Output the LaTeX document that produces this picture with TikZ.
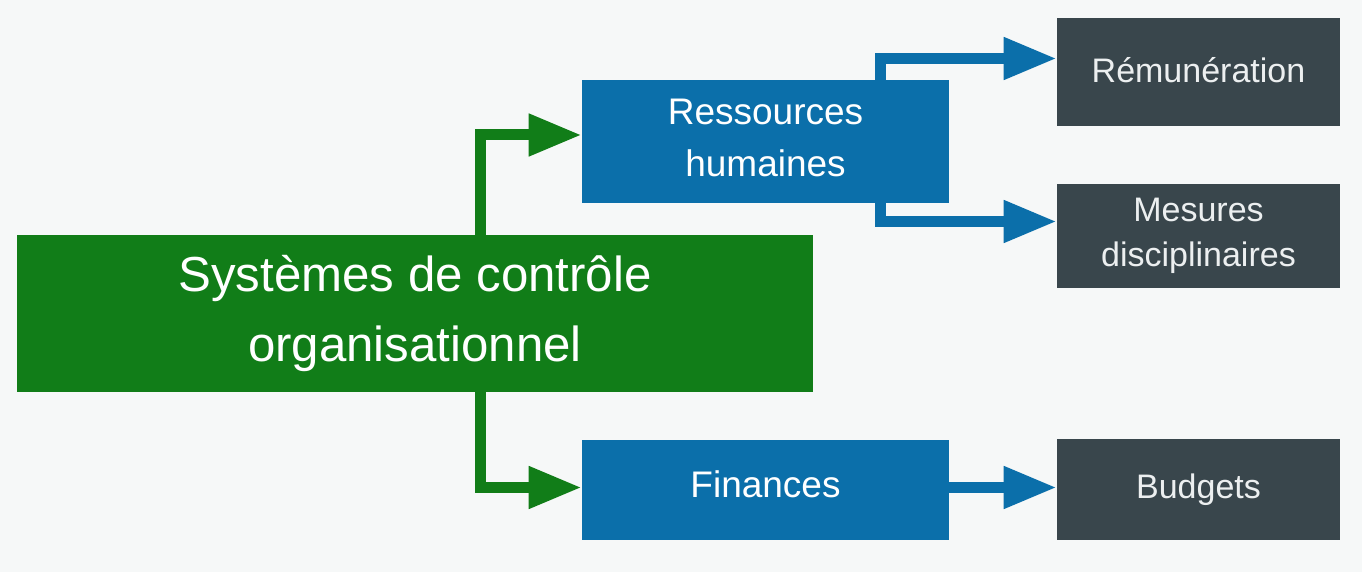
\documentclass[tikz,border=0pt]{standalone}
\usepackage{fontspec}
\setmainfont{Liberation Sans}
\usetikzlibrary{arrows.meta}
\definecolor{ctrlgreen}{RGB}{17,125,24}
\definecolor{ctrlblue}{RGB}{11,111,170}
\definecolor{ctrldark}{RGB}{57,70,76}
\definecolor{ctrlbg}{RGB}{246,248,248}
\definecolor{ctrltext}{RGB}{236,239,240}

\begin{document}
\begin{tikzpicture}[x=0.5pt,y=-0.5pt, box/.style={rectangle,inner sep=0pt,align=center,text=white},
  sysbox/.style={box,fill=ctrlgreen,minimum width=398pt,minimum height=78.5pt,font=\fontsize{24.6}{35}\selectfont},
  areabox/.style={box,fill=ctrlblue,minimum width=183.5pt,font=\fontsize{18.5}{26}\selectfont},
  toolbox/.style={box,fill=ctrldark,text=ctrltext,minimum width=141.5pt,font=\fontsize{17}{22.5}\selectfont},
  flow/.style={line width=5.5pt,-{Triangle[length=26.5pt,width=20pt]}}]
\fill[ctrlbg] (0,0) rectangle (1362,572);
\useasboundingbox (0,0) rectangle (1362,572);
\node[sysbox] (sys) at (415,313.5) {Systèmes de contrôle\\organisationnel};
\node[areabox,minimum height=61.5pt,text depth=4pt] (rh) at (765.5,141.5) {Ressources\\humaines};
\node[areabox,minimum height=50pt,text depth=6pt] (fin) at (765.5,490) {Finances};
\node[toolbox,minimum height=54pt,text depth=2pt] (rem) at (1198.5,72) {Rémunération};
\node[toolbox,minimum height=52pt] (mes) at (1198.5,236) {Mesures\\disciplinaires};
\node[toolbox,minimum height=50.5pt] (bud) at (1198.5,489.5) {Budgets};
\draw[flow,ctrlgreen] ([xshift=32.5pt]sys.north) |- ([yshift=3.25pt]rh.west);
\draw[flow,ctrlgreen] ([xshift=32.5pt]sys.south) |- ([yshift=1.25pt]fin.west);
\draw[flow,ctrlblue] ([xshift=57.5pt]rh.north) |- ([yshift=6.75pt]rem.west);
\draw[flow,ctrlblue] ([xshift=57.5pt]rh.south) |- ([yshift=7.25pt]mes.west);
\draw[flow,ctrlblue] ([yshift=1.25pt]fin.east) -- ([yshift=1.25pt]fin.east -| bud.west);
\end{tikzpicture}
\end{document}
